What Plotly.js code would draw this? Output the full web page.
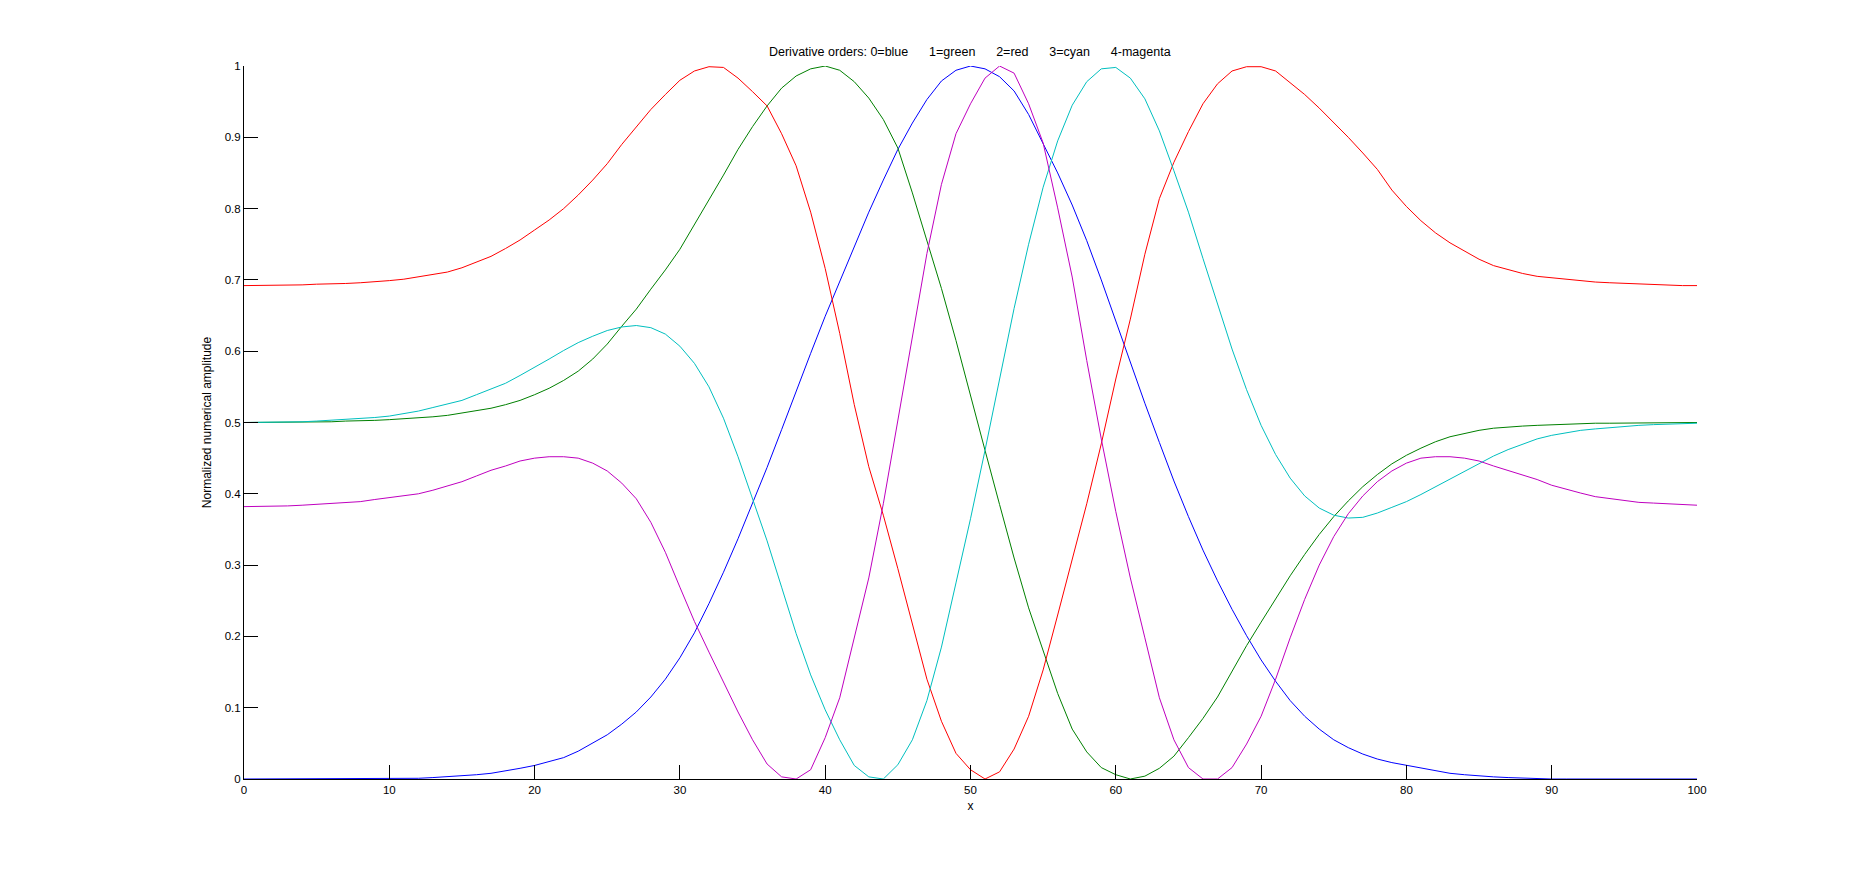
<!DOCTYPE html>
<html>
<head>
<meta charset="utf-8">
<script src="https://cdn.plot.ly/plotly-3.0.1.min.js"></script>
<style>html,body{margin:0;padding:0;background:#fff;}#chart{width:1874px;height:875px;}</style>
</head>
<body>
<div id="chart"></div>
<script>
// x positions 0..100
var xValues = [0,1,2,3,4,5,6,7,8,9,10,11,12,13,14,15,16,17,18,19,20,21,22,23,24,25,26,27,28,29,30,31,32,33,34,35,36,37,38,39,40,41,42,43,44,45,46,47,48,49,50,51,52,53,54,55,56,57,58,59,60,61,62,63,64,65,66,67,68,69,70,71,72,73,74,75,76,77,78,79,80,81,82,83,84,85,86,87,88,89,90,91,92,93,94,95,96,97,98,99,100];

// order 0 (blue)
var order0 = [0,0,0,0,0,0,0,0,0,0,0,0.0005,0.001,0.002,0.003,0.004,0.006,0.008,0.011,0.015,0.019,
0.024,0.030,0.039,0.050,0.062,0.077,0.094,0.115,0.140,0.170,0.205,0.246,0.290,0.337,0.386,0.437,0.490,0.544,0.597,0.649,
0.698,0.746,0.795,0.840,0.883,0.920,0.953,0.979,0.994,1.0,0.996,0.985,0.965,0.932,0.890,0.850,0.805,0.755,0.700,0.642,
0.585,0.527,0.472,0.418,0.368,0.321,0.278,0.238,0.201,0.167,0.137,0.110,0.088,0.070,0.055,0.044,0.035,0.028,0.023,0.019,
0.015,0.011,0.008,0.006,0.004,0.003,0.002,0.001,0.0005,0,0,0,0,0,0,0,0,0,0,0,0];

// order 1 (green)
var order1 = [0.500,0.500,0.500,0.500,0.500,0.501,0.501,0.502,0.502,0.503,0.504,0.505,0.506,0.508,0.510,0.513,0.516,0.520,0.525,0.531,0.539,
0.548,0.559,0.572,0.589,0.610,0.635,0.659,0.687,0.714,0.743,0.777,0.811,0.847,0.883,0.915,0.944,0.969,0.986,0.996,1.0,
0.994,0.978,0.955,0.925,0.885,0.822,0.755,0.688,0.615,0.540,0.461,0.385,0.310,0.240,0.180,0.120,0.070,0.038,0.016,0.006,
0.0,0.004,0.015,0.032,0.058,0.085,0.115,0.152,0.187,0.220,0.253,0.285,0.315,0.343,0.368,0.390,0.410,0.427,0.442,0.454,
0.464,0.473,0.480,0.485,0.489,0.492,0.494,0.495,0.496,0.497,0.498,0.498,0.499,0.499,0.499,0.500,0.500,0.500,0.500,0.500];

// order 2 (red)
var order2 = [0.692,0.692,0.692,0.693,0.693,0.694,0.694,0.695,0.696,0.697,0.699,0.701,0.704,0.707,0.711,0.717,0.725,0.733,0.744,0.756,0.770,
0.784,0.800,0.819,0.840,0.863,0.890,0.915,0.939,0.960,0.980,0.993,0.999,0.998,0.983,0.964,0.944,0.905,0.860,0.795,0.716,
0.625,0.525,0.438,0.370,0.295,0.217,0.140,0.081,0.036,0.013,0.0,0.010,0.042,0.088,0.153,0.230,0.308,0.386,0.470,0.561,
0.645,0.736,0.814,0.865,0.908,0.947,0.975,0.993,0.999,0.999,0.993,0.977,0.960,0.941,0.921,0.900,0.878,0.855,0.826,0.803,
0.783,0.766,0.752,0.740,0.729,0.720,0.714,0.709,0.705,0.703,0.700,0.698,0.697,0.696,0.695,0.694,0.693,0.693,0.692,0.692];

// order 3 (cyan)
var order3 = [0.500,0.500,0.500,0.500,0.501,0.502,0.503,0.504,0.506,0.507,0.509,0.512,0.516,0.521,0.526,0.531,0.539,0.547,0.555,0.566,0.577,
0.589,0.601,0.612,0.621,0.629,0.634,0.636,0.633,0.624,0.607,0.583,0.550,0.506,0.452,0.393,0.334,0.269,0.204,0.146,0.097,
0.055,0.019,0.003,0.0,0.020,0.055,0.110,0.185,0.275,0.365,0.461,0.560,0.660,0.750,0.830,0.895,0.945,0.978,0.996,0.998,
0.983,0.954,0.909,0.853,0.795,0.730,0.665,0.603,0.546,0.496,0.455,0.422,0.397,0.380,0.370,0.366,0.367,0.373,0.381,0.389,
0.399,0.410,0.421,0.432,0.443,0.453,0.462,0.470,0.477,0.482,0.486,0.489,0.491,0.493,0.495,0.496,0.497,0.498,0.499,0.499];

// order 4 (magenta)
var order4 = [0.382,0.382,0.382,0.383,0.384,0.385,0.386,0.387,0.389,0.392,0.395,0.397,0.400,0.405,0.411,0.417,0.425,0.433,0.439,0.446,0.450,
0.452,0.452,0.450,0.443,0.432,0.415,0.393,0.360,0.318,0.269,0.221,0.178,0.136,0.094,0.055,0.021,0.003,0.0,0.013,0.058,
0.114,0.198,0.282,0.386,0.503,0.626,0.737,0.834,0.905,0.947,0.983,1.0,0.990,0.947,0.892,0.801,0.704,0.587,0.477,0.375,
0.282,0.198,0.114,0.055,0.016,0.0,0.0,0.016,0.049,0.088,0.140,0.198,0.252,0.300,0.340,0.372,0.397,0.417,0.432,0.443,
0.450,0.452,0.452,0.450,0.446,0.439,0.433,0.426,0.420,0.412,0.406,0.401,0.396,0.393,0.390,0.388,0.387,0.386,0.385,0.384];

var seriesNames = ['0','1','2','3','4'];
var seriesValues = [order0, order1, order2, order3, order4];
var seriesColors = ['#0000FF', '#008000', '#FF0000', '#00BFBF', '#BF00BF'];

var titleText = 'Derivative orders: 0=blue      1=green      2=red      3=cyan      4-magenta';
var xTitle = 'x';
var yTitle = 'Normalized numerical amplitude';
var xTicks = [0,10,20,30,40,50,60,70,80,90,100];
var yTicks = [0,0.1,0.2,0.3,0.4,0.5,0.6,0.7,0.8,0.9,1];

var traces = seriesValues.map(function (vals, i) {
  return {
    x: xValues, y: vals, type: 'scatter', mode: 'lines', name: seriesNames[i],
    line: {color: seriesColors[i], width: 1}, hoverinfo: 'x+y'
  };
});

var fontFam = 'Liberation Sans, Arial, Helvetica, sans-serif';
var layout = {
  width: 1874, height: 875,
  margin: {l: 244, r: 177, t: 66, b: 96, pad: 0},
  paper_bgcolor: '#ffffff', plot_bgcolor: '#ffffff',
  showlegend: false,
  font: {family: fontFam, size: 12, color: '#000'},
  title: {text: titleText.replace(/ /g, '\u00a0'), x: 0.5175, xanchor: 'center', y: 1 - 52/875, yanchor: 'middle', yref: 'container',
          font: {family: fontFam, size: 12.5, color: '#000'}},
  xaxis: {
    range: [0, 100], tickvals: xTicks, ticktext: xTicks.map(String),
    ticks: 'inside', ticklen: 14, tickwidth: 1, tickcolor: '#000',
    showline: true, linecolor: '#000', linewidth: 1, mirror: false,
    showgrid: false, zeroline: false,
    tickfont: {family: fontFam, size: 11.5, color: '#000'},
    title: {text: xTitle, font: {family: fontFam, size: 12, color: '#000'}, standoff: 6}
  },
  yaxis: {
    range: [0, 1], tickvals: yTicks, ticktext: yTicks.map(String),
    ticks: 'inside', ticklen: 14, tickwidth: 1, tickcolor: '#000',
    showline: true, linecolor: '#000', linewidth: 1, mirror: false,
    showgrid: false, zeroline: false,
    tickfont: {family: fontFam, size: 11.5, color: '#000'},
    title: {text: yTitle, font: {family: fontFam, size: 12, color: '#000'}, standoff: 10}
  }
};

Plotly.newPlot('chart', traces, layout, {displayModeBar: false, staticPlot: true});
</script>
</body>
</html>
